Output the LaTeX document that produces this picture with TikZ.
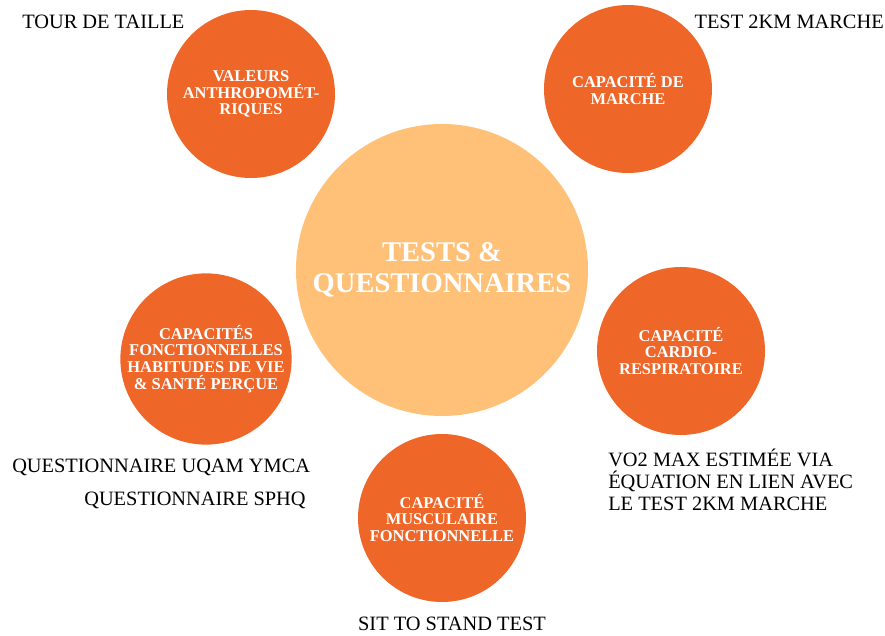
\documentclass[tikz,border=0pt]{standalone}
\usepackage{fontspec}
\setmainfont{Liberation Serif}
\usepackage{tikz}
\usetikzlibrary{shapes}
\definecolor{deeporange}{RGB}{239,102,41}
\definecolor{paleorange}{RGB}{255,193,120}
\tikzstyle{hub} = [circle, minimum size=7.3cm, inner sep=0pt, fill=paleorange, text=white, align=center, font=\fontsize{20.3}{22}\selectfont\bfseries]
\tikzstyle{sat} = [circle, minimum size=4.2cm, inner sep=0pt, fill=deeporange, text=white, align=center, font=\fontsize{11.7}{12}\selectfont\bfseries]
\tikzstyle{lbl} = [inner sep=0pt, font=\fontsize{14.5}{15.6}\selectfont]

\begin{document}
\begin{tikzpicture}
			\useasboundingbox (-11.05,-9.15) rectangle (11.075,6.75);
			\node[hub](1) at (0,0){TESTS \&\\QUESTIONNAIRES};
			\node[sat](2) at ([shift={(-4.775,4.4)}]1){VALEURS\\ANTHROPOMÉT-\\RIQUES};
			\node[sat](3) at ([shift={(4.65,4.525)}]1){CAPACITÉ DE\\MARCHE};
			\node[sat](4) at ([shift={(-5.9,-2.225)}]1){CAPACITÉS\\FONCTIONNELLES\\HABITUDES DE VIE\\\& SANTÉ PERÇUE};
			\node[sat](5) at ([shift={(5.975,-2.025)}]1){CAPACITÉ\\CARDIO-\\RESPIRATOIRE};
			\node[sat](6) at ([shift={(0,-6.2)}]1){CAPACITÉ\\MUSCULAIRE\\FONCTIONNELLE};
			\node[lbl, anchor=west](2a) at (-10.5,6.2){TOUR DE TAILLE};
			\node[lbl, anchor=east](3a) at (11.05,6.2){TEST 2KM MARCHE};
			\node[lbl, anchor=west](4a) at (-10.75,-4.925){QUESTIONNAIRE UQAM YMCA};
			\node[lbl, anchor=east](4b) at (-3.4,-5.75){QUESTIONNAIRE SPHQ};
			\node[lbl, anchor=west, align=left](5a) at (4.15,-5.25){VO2 MAX ESTIMÉE VIA\\ÉQUATION EN LIEN AVEC\\LE TEST 2KM MARCHE};
			\node[lbl](6a) at (0.25,-8.85){SIT TO STAND TEST};
		\end{tikzpicture}
\end{document}
